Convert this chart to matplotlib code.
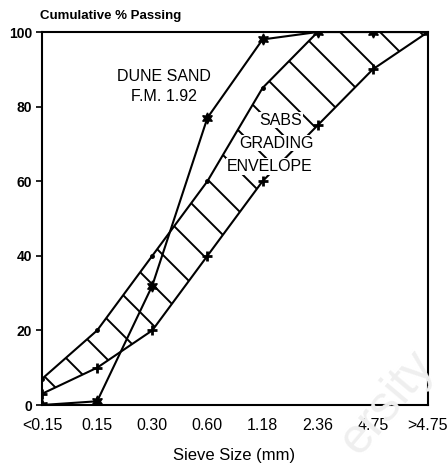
import numpy as np
import matplotlib
matplotlib.use("Agg")
import matplotlib.pyplot as plt
from matplotlib.patches import Polygon

# Sieve sizes (categorical axis) and cumulative % passing
sieves = ["<0.15", "0.15", "0.30", "0.60", "1.18", "2.36", "4.75", ">4.75"]
dune_sand = [0, 1, 32, 77, 98, 100, 100, 100]
sabs_upper = [7, 20, 40, 60, 85, 100, 100, 100]
sabs_lower = [3, 10, 20, 40, 60, 75, 90, 100]
y_ticks = [0, 20, 40, 60, 80, 100]

W, H, DPI = 448, 469, 100
fig = plt.figure(figsize=(W / DPI, H / DPI), dpi=DPI)
ax = fig.add_axes([42 / W, 1 - 405 / H, (428 - 42) / W, (405 - 32) / H])

x = np.arange(len(sieves))
ax.set_xlim(0, len(sieves) - 1)
ax.set_ylim(0, 100)

# envelope boundaries
ax.plot(x, sabs_upper, color="black", lw=1.5, marker="o", ms=2.5, zorder=3)
ax.plot(x, sabs_lower, color="black", lw=1.5, marker="+", ms=7, mew=2, zorder=3)

# dune sand grading curve
ax.plot(x, dune_sand, color="black", lw=1.5, marker=(6, 1, 0), ms=8, zorder=4)

# band between the envelope limits, used as clip region for the hatching
band_pts = np.column_stack([np.concatenate([x, x[::-1]]),
                            np.concatenate([sabs_upper, sabs_lower[::-1]])])
band = Polygon(band_pts, closed=True, facecolor="none", edgecolor="none",
               transform=ax.transData)
ax.add_patch(band)

# 45-degree hatch strokes (in pixel space) across the envelope
inv = ax.transData.inverted()
for c in np.arange(17, 900, 40):
    p0 = inv.transform((c - 500, 500))
    p1 = inv.transform((c + 500, -500))
    ln, = ax.plot([p0[0], p1[0]], [p0[1], p1[1]], color="black", lw=1.4, zorder=2)
    ln.set_clip_path(band)

# annotations
lbl = dict(ha="center", va="center", fontsize=11.5, family="Liberation Sans", zorder=5)
ax.text(2.21, 88.0, "DUNE SAND", **lbl)
ax.text(2.21, 82.6, "F.M. 1.92", **lbl)
bb = dict(facecolor="white", edgecolor="none", pad=0.6)
ax.text(4.33, 76.4, "SABS", bbox=bb, **lbl)
ax.text(4.26, 70.2, "GRADING", bbox=bb, **lbl)
ax.text(4.13, 64.0, "ENVELOPE", bbox=bb, **lbl)

# axes styling
ax.set_xticks(x)
ax.set_xticklabels(sieves, fontsize=11.5, family="Liberation Sans")
ax.set_yticks(y_ticks)
ax.set_yticklabels([str(v) for v in y_ticks], fontsize=10, fontweight="bold",
                   family="Liberation Sans")
ax.tick_params(axis="x", length=0, pad=9)
ax.tick_params(axis="y", direction="out", length=4, width=1.2, pad=3)
for s in ax.spines.values():
    s.set_linewidth(1.5)

fig.text(40 / W, 1 - 16 / H, "Cumulative % Passing", ha="left", va="center",
         fontsize=9.5, fontweight="bold", family="Liberation Sans")
fig.text(234 / W, 1 - 455 / H, "Sieve Size (mm)", ha="center", va="center",
         fontsize=12, family="Liberation Sans")

# faint watermark in the lower right corner
fig.text(388 / W, 1 - 402 / H, "ersity", ha="center", va="center",
         fontsize=36, color="#efefef", rotation=50, family="Liberation Sans",
         zorder=0)

fig.savefig("out.png", dpi=DPI)
